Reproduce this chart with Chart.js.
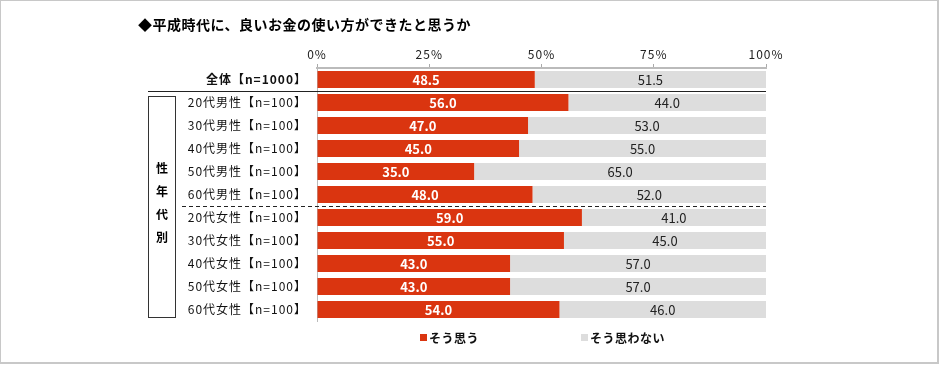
<!DOCTYPE html>
<html>
<head>
<meta charset="utf-8">
<script src="https://cdn.jsdelivr.net/npm/chart.js@4"></script>
<style>
  body { margin: 0; background: #fff; }
  #wrap { position: relative; width: 940px; height: 365px; }
  #frame { position: absolute; left: 0; top: 0; width: 936px; height: 361px; border: 1px solid #c8c8c8; border-width: 1px 2px 2px 1px; }
  canvas { position: absolute; left: 0; top: 0; }
</style>
</head>
<body>
<div id="wrap">
  <div id="frame"></div>
  <canvas id="chart" width="940" height="365"></canvas>
</div>
<script>
const titleText = '◆平成時代に、良いお金の使い方ができたと思うか';
const categories = [
    '全体【n=1000】',
    '20代男性【n=100】', '30代男性【n=100】', '40代男性【n=100】', '50代男性【n=100】', '60代男性【n=100】',
    '20代女性【n=100】', '30代女性【n=100】', '40代女性【n=100】', '50代女性【n=100】', '60代女性【n=100】'
];
const yesValues = [48.5, 56.0, 47.0, 45.0, 35.0, 48.0, 59.0, 55.0, 43.0, 43.0, 54.0];
const noValues = [51.5, 44.0, 53.0, 55.0, 65.0, 52.0, 41.0, 45.0, 57.0, 57.0, 46.0];
const seriesNames = ['そう思う', 'そう思わない'];
const groupLabel = ['性', '年', '代', '別'];
const xTicks = [0, 25, 50, 75, 100];

const FONT = '"Noto Sans CJK JP", "Noto Sans", sans-serif';
const RED = '#da3510';
const GRAY = '#dddddd';

const decorPlugin = {
    id: 'decor',
    beforeDraw(chart) {
        // wider spacing for the axis labels, like the original
        chart.ctx.letterSpacing = '1px';
    },
    beforeDatasetsDraw(chart) {
        chart.ctx.letterSpacing = '0px';
    },
    afterDatasetsDraw(chart) {
        const ctx = chart.ctx;
        const area = chart.chartArea;
        const y = chart.scales.y;

        // value labels
        chart.data.datasets.forEach((ds, di) => {
            chart.getDatasetMeta(di).data.forEach((bar, i) => {
                const cx = (bar.x + bar.base) / 2;
                ctx.save();
                ctx.font = (di === 0 ? 'bold ' : '') + '13px ' + FONT;
                ctx.fillStyle = di === 0 ? '#fff' : '#222';
                ctx.textAlign = 'center';
                ctx.textBaseline = 'middle';
                ctx.fillText(ds.data[i].toFixed(1), cx, bar.y + 1);
                ctx.restore();
            });
        });

        ctx.save();
        // solid line under total row
        const sepTop = (y.getPixelForValue(0) + y.getPixelForValue(1)) / 2;
        ctx.strokeStyle = '#222';
        ctx.lineWidth = 1;
        ctx.beginPath();
        ctx.moveTo(148, Math.round(sepTop) + 0.5);
        ctx.lineTo(area.right, Math.round(sepTop) + 0.5);
        ctx.stroke();

        // dashed line between male and female groups
        const sepMid = (y.getPixelForValue(5) + y.getPixelForValue(6)) / 2;
        ctx.setLineDash([4, 3]);
        ctx.beginPath();
        ctx.moveTo(182, Math.round(sepMid) + 0.5);
        ctx.lineTo(area.right, Math.round(sepMid) + 0.5);
        ctx.stroke();
        ctx.setLineDash([]);

        // bracket box
        ctx.strokeStyle = '#333';
        ctx.strokeRect(148.5, 96.5, 27, 221);
        ctx.fillStyle = '#000';
        ctx.font = 'bold 12px ' + FONT;
        ctx.textAlign = 'center';
        ctx.textBaseline = 'middle';
        groupLabel.forEach((ch, i) => ctx.fillText(ch, 162, 168 + i * 23));

        // title
        ctx.textAlign = 'left';
        ctx.letterSpacing = '0.5px';
        ctx.font = 'bold 14px ' + FONT;
        ctx.fillText(titleText, 138, 25);

        // legend
        const legendX = [420, 581];
        ctx.font = 'bold 12px ' + FONT;
        seriesNames.forEach((name, i) => {
            ctx.fillStyle = i === 0 ? RED : GRAY;
            ctx.fillRect(legendX[i], 334, 7, 7);
            ctx.fillStyle = '#111';
            ctx.fillText(name, legendX[i] + 9, 338);
        });
        ctx.restore();
    }
};

new Chart(document.getElementById('chart'), {
    type: 'bar',
    data: {
        labels: categories,
        datasets: [
            { label: seriesNames[0], data: yesValues, backgroundColor: RED },
            { label: seriesNames[1], data: noValues, backgroundColor: GRAY }
        ]
    },
    options: {
        indexAxis: 'y',
        responsive: false,
        animation: false,
        layout: { padding: { left: 0, top: 0, right: 174, bottom: 44 } },
        datasets: { bar: { categoryPercentage: 1, barPercentage: 0.74 } },
        plugins: { legend: { display: false }, tooltip: { enabled: false } },
        scales: {
            x: {
                position: 'top',
                stacked: true,
                min: 0,
                max: 100,
                afterFit: (s) => { s.height = 68; },
                afterBuildTicks: (s) => { s.ticks = xTicks.map(v => ({ value: v })); },
                ticks: {
                    color: '#222',
                    font: { family: FONT, size: 12 },
                    padding: 2,
                    callback: (v) => v + '%'
                },
                grid: { drawOnChartArea: false, tickLength: 4, color: '#aaa' },
                border: { color: '#bbb', width: 2 }
            },
            y: {
                stacked: true,
                afterFit: (s) => { s.width = 317; },
                ticks: {
                    color: '#111',
                    padding: 10,
                    font: (c) => ({ family: FONT, size: 12, weight: c.index === 0 ? 'bold' : 'normal' })
                },
                grid: { drawOnChartArea: false, tickLength: 0 },
                border: { color: '#bbb', width: 1 }
            }
        }
    },
    plugins: [decorPlugin]
});
</script>
</body>
</html>
